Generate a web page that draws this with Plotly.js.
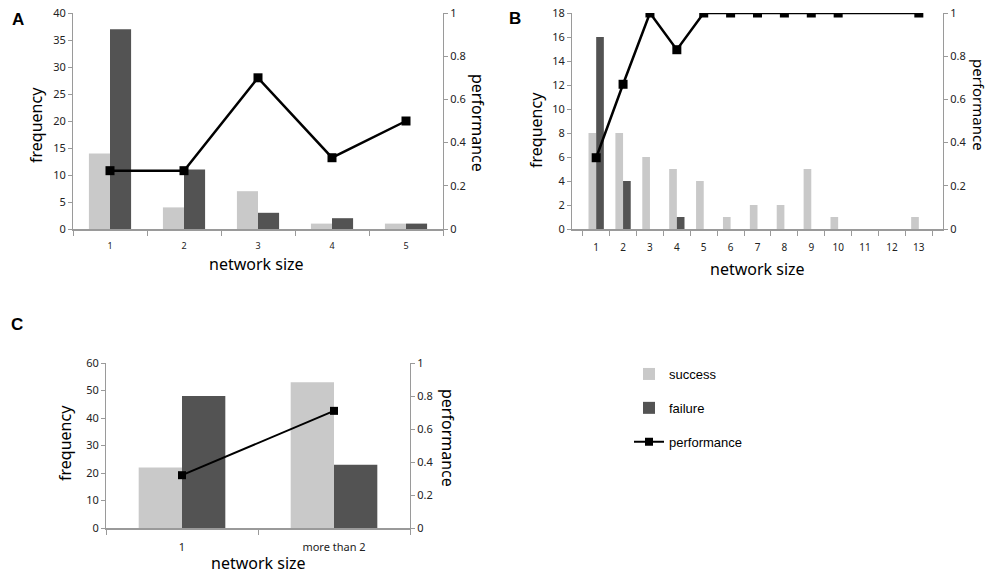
<!DOCTYPE html>
<html>
<head>
<meta charset="utf-8">
<script src="https://cdn.plot.ly/plotly-3.0.1.min.js"></script>
<style>html,body{margin:0;padding:0;background:#fff;}#chart{width:989px;height:576px;}</style>
</head>
<body>
<div id="chart"></div>
<script>
// ---- data ----
const sizesA = ["1", "2", "3", "4", "5"];
const successA = [14, 4, 7, 1, 1];
const failureA = [37, 11, 3, 2, 1];
const perfA = [0.27, 0.27, 0.70, 0.33, 0.50];

const sizesB = ["1", "2", "3", "4", "5", "6", "7", "8", "9", "10", "11", "12", "13"];
const successB = [8, 8, 6, 5, 4, 1, 2, 2, 5, 1, 0, 0, 1];
const failureB = [16, 4, 0, 1, 0, 0, 0, 0, 0, 0, 0, 0, 0];
const perfB = [0.33, 0.67, 1, 0.83, 1, 1, 1, 1, 1, 1, null, null, 1];

const groupsC = ["1", "more than 2"];
const successC = [22, 53];
const failureC = [48, 23];
const perfC = [0.32, 0.71];

const seriesNames = ["success", "failure", "performance"];

// ---- styling ----
const W = 989, H = 576;
const LIGHT = "#c9c9c9", DARK = "#535353", AXIS = "#9a9a9a";
const TXT = "#222";
const FONT = "Noto Sans, Liberation Sans, sans-serif";

function px(x) { return x / W; }
function py(y) { return 1 - y / H; }

function barTrace(x, y, name, color, xa, ya, show) {
  return { type: "bar", x: x, y: y, name: name, marker: { color: color },
    xaxis: xa, yaxis: ya, showlegend: show, legendgroup: name };
}
function lineTrace(x, y, xa, ya, show, msize, lw) {
  return { type: "scatter", mode: "lines+markers", x: x, y: y, name: seriesNames[2],
    connectgaps: true, line: { color: "#000", width: lw },
    marker: { symbol: "square", size: msize, color: "#000" },
    xaxis: xa, yaxis: ya, showlegend: show, legendgroup: seriesNames[2] };
}

const data = [
  barTrace(sizesA, successA, seriesNames[0], LIGHT, "x", "y", false),
  barTrace(sizesA, failureA, seriesNames[1], DARK, "x", "y", false),
  lineTrace(sizesA, perfA, "x", "y2", false, 9, 2.5),
  barTrace(sizesB, successB, seriesNames[0], LIGHT, "x2", "y3", false),
  barTrace(sizesB, failureB, seriesNames[1], DARK, "x2", "y3", false),
  lineTrace(sizesB, perfB, "x2", "y4", false, 9, 2.5),
  barTrace(groupsC, successC, seriesNames[0], LIGHT, "x3", "y5", true),
  barTrace(groupsC, failureC, seriesNames[1], DARK, "x3", "y5", true),
  lineTrace(groupsC, perfC, "x3", "y6", true, 8, 2)
];

function xax(domain, anchor, fs, standoff) {
  return { domain: domain, anchor: anchor, type: "category", showline: true, linecolor: AXIS,
    linewidth: 1.5, ticks: "outside", tickson: "boundaries", ticklen: 5, tickcolor: AXIS,
    showgrid: false, zeroline: false, tickfont: { family: FONT, size: fs, color: TXT },
    ticklabelstandoff: standoff, fixedrange: true };
}
function yax(domain, anchor, range, dtick, side, overlay) {
  const o = { domain: domain, anchor: anchor, range: range, dtick: dtick, side: side,
    showline: true, linecolor: AXIS, linewidth: 1, ticks: "outside", ticklen: 4, tickcolor: AXIS,
    showgrid: false, zeroline: false, tickfont: { family: FONT, size: 11, color: TXT } };
  if (overlay) o.overlaying = overlay;
  return o;
}

const domA = [px(73), px(443)], domB = [px(572), px(943)], domC = [px(106), px(410)];
const yTop = [py(229), py(13)], yBot = [py(528), py(363)];

function ann(text, x, y, size, angle, bold) {
  return { text: text, x: px(x), y: py(y), xref: "paper", yref: "paper", showarrow: false,
    textangle: angle || 0, xanchor: "center", yanchor: "middle",
    font: { family: bold ? "Liberation Sans, Arial, sans-serif" : FONT, size: size, color: "#000",
            weight: bold ? "bold" : "normal" } };
}

const layout = {
  width: W, height: H, margin: { l: 0, r: 0, t: 0, b: 0 },
  paper_bgcolor: "#fff", plot_bgcolor: "#fff",
  barmode: "group", bargap: 0.43, bargroupgap: 0,
  xaxis: xax(domA, "y", 9, 8),
  yaxis: yax(yTop, "x", [0, 40], 5, "left"),
  yaxis2: yax(yTop, "x", [0, 1], 0.2, "right", "y"),
  xaxis2: xax(domB, "y3", 10, 8),
  yaxis3: yax(yTop, "x2", [0, 18], 2, "left"),
  yaxis4: yax(yTop, "x2", [0, 1], 0.2, "right", "y3"),
  xaxis3: xax(domC, "y5", 11, 8),
  yaxis5: yax(yBot, "x3", [0, 60], 10, "left"),
  yaxis6: yax(yBot, "x3", [0, 1], 0.2, "right", "y5"),
  showlegend: true,
  legend: { x: px(629), y: py(359), xanchor: "left", yanchor: "top", traceorder: "grouped",
    tracegroupgap: 14, font: { family: "Liberation Sans, Arial, sans-serif", size: 13, color: "#000" },
    bgcolor: "rgba(0,0,0,0)" },
  annotations: [
    ann("A", 18, 20, 17, 0, true),
    ann("B", 515, 18, 17, 0, true),
    ann("C", 17, 324, 17, 0, true),
    ann("frequency", 36, 125, 16, -90),
    ann("performance", 478, 123, 16, 90),
    ann("network size", 256, 264, 16, 0),
    ann("frequency", 536, 130, 16, -90),
    ann("performance", 979, 105, 15, 90),
    ann("network size", 757, 269, 16, 0),
    ann("frequency", 65, 443, 16, -90),
    ann("performance", 448, 438, 16, 90),
    ann("network size", 258, 563, 16, 0)
  ]
};

Plotly.newPlot("chart", data, layout, { displayModeBar: false, staticPlot: true });
</script>
</body>
</html>
